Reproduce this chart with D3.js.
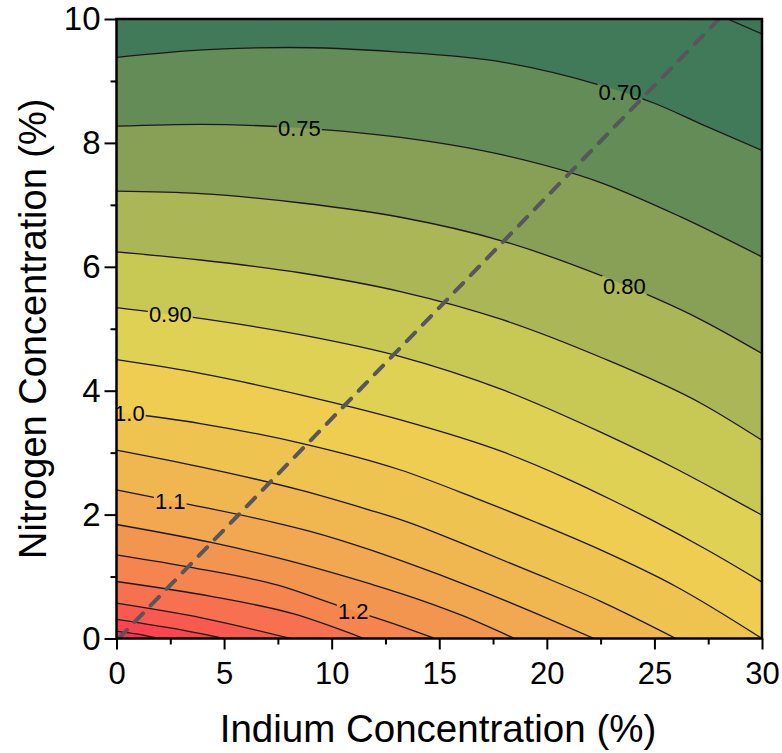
<!DOCTYPE html>
<html>
<head>
<meta charset="utf-8">
<script src="https://cdn.jsdelivr.net/npm/d3@7"></script>
<style>
  body { margin: 0; background: #fff; }
  svg text { font-family: "Liberation Sans", Arial, sans-serif; }
</style>
</head>
<body>
<div id="main"></div>
<script>
// contour levels (eV) and the lines, [In %, N %]
var levels = [0.65, 0.70, 0.75, 0.80, 0.85, 0.90, 0.95, 1.00, 1.05, 1.10, 1.15, 1.20, 1.25, 1.30, 1.35, 1.40];

var contourPts = [
    [[28.4, 10], [30, 9.76]],
    [[0, 9.38], [4, 9.5], [8, 9.54], [13, 9.47], [18, 9.3], [22.5, 8.93], [25, 8.64], [27.2, 8.3], [30, 7.88]],
    [[0, 8.27], [3.9, 8.3], [8.6, 8.24], [13.2, 8.09], [17.9, 7.81], [22.5, 7.36], [26.2, 6.81], [30, 6.16]],
    [[0, 7.22], [3.9, 7.18], [8.6, 7.03], [13.2, 6.8], [17.9, 6.42], [22.5, 5.86], [27.2, 5.14], [30, 4.6]],
    [[0, 6.24], [3.9, 6.11], [8.6, 5.9], [13.2, 5.6], [17.9, 5.15], [22.5, 4.54], [27.2, 3.79], [30, 3.2]],
    [[0, 5.34], [3.4, 5.19], [8.6, 4.9], [13.2, 4.55], [17.9, 4.02], [22.5, 3.33], [26, 2.74], [28, 2.37], [30, 1.99]],
    [[0, 4.5], [3.9, 4.28], [8.6, 3.93], [13.2, 3.53], [17.9, 3.02], [21, 2.57], [23, 2.24], [25, 1.89], [27.5, 1.42], [30, 0.91]],
    [[0, 3.66], [3.9, 3.47], [8.6, 3.15], [13.2, 2.72], [16.8, 2.25], [19.6, 1.86], [22.5, 1.43], [26, 0.84], [30, 0]],
    [[0, 3.04], [3.9, 2.77], [8.6, 2.39], [11.8, 2.07], [13.2, 1.92], [16.8, 1.43], [19.6, 1.03], [22.5, 0.6], [26, 0]],
    [[0, 2.4], [3.3, 2.17], [7.5, 1.86], [9, 1.73], [11.8, 1.43], [13.2, 1.26], [16.8, 0.79], [19.6, 0.39], [22.2, 0]],
    [[0, 1.84], [4.4, 1.55], [7.5, 1.3], [11.8, 0.88], [13.2, 0.73], [16, 0.38], [18.5, 0]],
    [[0, 1.35], [3.6, 1.14], [7.5, 0.86], [10.3, 0.53], [13.2, 0.2], [14.8, 0]],
    [[0, 0.92], [4.4, 0.68], [8.2, 0.4], [11.5, 0]],
    [[0, 0.57], [4, 0.33], [8.1, 0]],
    [[0, 0.31], [2.5, 0.17], [5, 0]],
    [[0, 0.12], [1, 0.07], [2, 0]]
];

// band colours: index 0 is below the first level
var bandColors = ["#3e7757", "#417a59", "#638c57", "#889f56", "#abb656", "#c8c955", "#dfd153",
    "#eecd50", "#efc350", "#f0b650", "#f1a851", "#f2964f", "#f5844f", "#f7704f", "#f95a50", "#fc4451", "#ff2f52"];

// labelled lines and where along In each label sits
var labelText = ["0.70", "0.75", "0.80", "0.90", "1.0", "1.1", "1.2"];
var labelLevel = [0.70, 0.75, 0.80, 0.90, 1.00, 1.10, 1.20];
var labelIn = [23.4, 8.5, 23.6, 2.5, 0.6, 2.5, 11.0];

// dashed guide line
var guideIn = [0.1, 28];
var guideN = [0, 10];

var xTicks = [0, 5, 10, 15, 20, 25, 30];
var xMinor = [2.5, 7.5, 12.5, 17.5, 22.5, 27.5];
var yTicks = [0, 2, 4, 6, 8, 10];
var yMinor = [1, 3, 5, 7, 9];

var cfg = { width: 782, height: 753, left: 116.5, right: 762, top: 19, bottom: 638.5 };

var x = d3.scaleLinear().domain([0, 30]).range([cfg.left, cfg.right]);
var y = d3.scaleLinear().domain([0, 10]).range([cfg.bottom, cfg.top]);

var svg = d3.select("#main").append("svg")
    .attr("width", cfg.width)
    .attr("height", cfg.height);

var defs = svg.append("defs");
defs.append("clipPath").attr("id", "plotClip")
    .append("rect")
    .attr("x", cfg.left).attr("y", cfg.top)
    .attr("width", cfg.right - cfg.left).attr("height", cfg.bottom - cfg.top);

var line = d3.line()
    .x(function (d) { return x(d[0]); })
    .y(function (d) { return y(d[1]); })
    .curve(d3.curveMonotoneX);

// closed region on the high-bandgap side (towards In=0, N=0)
function regionPath(pts) {
    var first = pts[0], last = pts[pts.length - 1];
    var p = line(pts);
    if (last[0] >= 30 && last[1] > 0) p += "L" + x(30) + "," + y(0);
    p += "L" + x(0) + "," + y(0);
    if (first[1] >= 10 && first[0] > 0) p += "L" + x(0) + "," + y(10);
    return p + "Z";
}

var plot = svg.append("g").attr("clip-path", "url(#plotClip)");

plot.append("rect")
    .attr("x", cfg.left).attr("y", cfg.top)
    .attr("width", cfg.right - cfg.left).attr("height", cfg.bottom - cfg.top)
    .attr("fill", bandColors[0]);

plot.selectAll(".band")
    .data(contourPts)
    .enter()
    .append("path")
    .attr("class", "band")
    .attr("d", regionPath)
    .attr("fill", function (d, i) { return bandColors[i + 1]; })
    .attr("stroke", "none");

// find N on a contour at a given In (linear between read points)
function nAt(pts, xi) {
    for (var k = 1; k < pts.length; k++) {
        if (pts[k][0] >= xi) {
            var t = (xi - pts[k - 1][0]) / (pts[k][0] - pts[k - 1][0]);
            return pts[k - 1][1] + t * (pts[k][1] - pts[k - 1][1]);
        }
    }
    return pts[pts.length - 1][1];
}

var labels = labelText.map(function (t, i) {
    var pts = contourPts[levels.indexOf(labelLevel[i])];
    return { text: t, px: x(labelIn[i]), py: y(nAt(pts, labelIn[i])) };
});

var lineG = plot.append("g").attr("mask", "url(#labelMask)");

var labelSel = plot.selectAll(".clabel")
    .data(labels)
    .enter()
    .append("text")
    .attr("class", "clabel")
    .attr("x", function (d) { return d.px; })
    .attr("y", function (d) { return d.py; })
    .attr("dy", "0.36em")
    .attr("text-anchor", "middle")
    .attr("font-size", 22)
    .attr("fill", "#000")
    .text(function (d) { return d.text; });

labelSel.each(function (d) { d.box = this.getBBox(); });

// mask so the contour lines break under the labels
var mask = defs.append("mask").attr("id", "labelMask");
mask.append("rect").attr("x", 0).attr("y", 0).attr("width", cfg.width).attr("height", cfg.height).attr("fill", "#fff");
mask.selectAll("rect.hole")
    .data(labels)
    .enter()
    .append("rect")
    .attr("class", "hole")
    .attr("x", function (d) { return d.box.x - 1; })
    .attr("y", function (d) { return d.box.y + 2; })
    .attr("width", function (d) { return d.box.width + 2; })
    .attr("height", function (d) { return d.box.height - 4; })
    .attr("fill", "#000");

lineG.selectAll(".cline")
    .data(contourPts)
    .enter()
    .append("path")
    .attr("class", "cline")
    .attr("d", line)
    .attr("fill", "none")
    .attr("stroke", "#1a1a1a")
    .attr("stroke-width", 1.3);

plot.append("path")
    .datum(d3.zip(guideIn, guideN))
    .attr("d", d3.line().x(function (d) { return x(d[0]); }).y(function (d) { return y(d[1]); }))
    .attr("fill", "none")
    .attr("stroke", "#56565c")
    .attr("stroke-width", 4)
    .attr("stroke-dasharray", "12,11")
    .attr("stroke-linecap", "round");

// frame
svg.append("rect")
    .attr("x", cfg.left).attr("y", cfg.top)
    .attr("width", cfg.right - cfg.left).attr("height", cfg.bottom - cfg.top)
    .attr("fill", "none")
    .attr("stroke", "#000")
    .attr("stroke-width", 2.5);

// axes
function styleAxis(g) {
    g.select(".domain").remove();
    g.selectAll(".tick line").attr("stroke", "#000").attr("stroke-width", 2);
}

svg.append("g")
    .attr("transform", "translate(0," + cfg.bottom + ")")
    .call(d3.axisBottom(x).tickValues(xMinor).tickSize(6).tickFormat(""))
    .call(styleAxis);

svg.append("g")
    .attr("transform", "translate(0," + cfg.bottom + ")")
    .call(d3.axisBottom(x).tickValues(xTicks).tickSize(11).tickPadding(12).tickFormat(d3.format("d")))
    .call(styleAxis)
    .selectAll("text")
    .attr("font-size", 31)
    .attr("fill", "#000");

svg.append("g")
    .attr("transform", "translate(" + cfg.left + ",0)")
    .call(d3.axisLeft(y).tickValues(yMinor).tickSize(6).tickFormat(""))
    .call(styleAxis);

svg.append("g")
    .attr("transform", "translate(" + cfg.left + ",0)")
    .call(d3.axisLeft(y).tickValues(yTicks).tickSize(12).tickPadding(4).tickFormat(d3.format("d")))
    .call(styleAxis)
    .selectAll("text")
    .attr("font-size", 33)
    .attr("fill", "#000");

svg.append("text")
    .attr("x", 438)
    .attr("y", 742)
    .attr("text-anchor", "middle")
    .attr("font-size", 38.5)
    .attr("fill", "#000")
    .text("Indium Concentration (%)");

svg.append("text")
    .attr("transform", "translate(46," + ((cfg.top + cfg.bottom) / 2) + ") rotate(-90)")
    .attr("text-anchor", "middle")
    .attr("font-size", 38)
    .attr("fill", "#000")
    .text("Nitrogen Concentration (%)");
</script>
</body>
</html>
